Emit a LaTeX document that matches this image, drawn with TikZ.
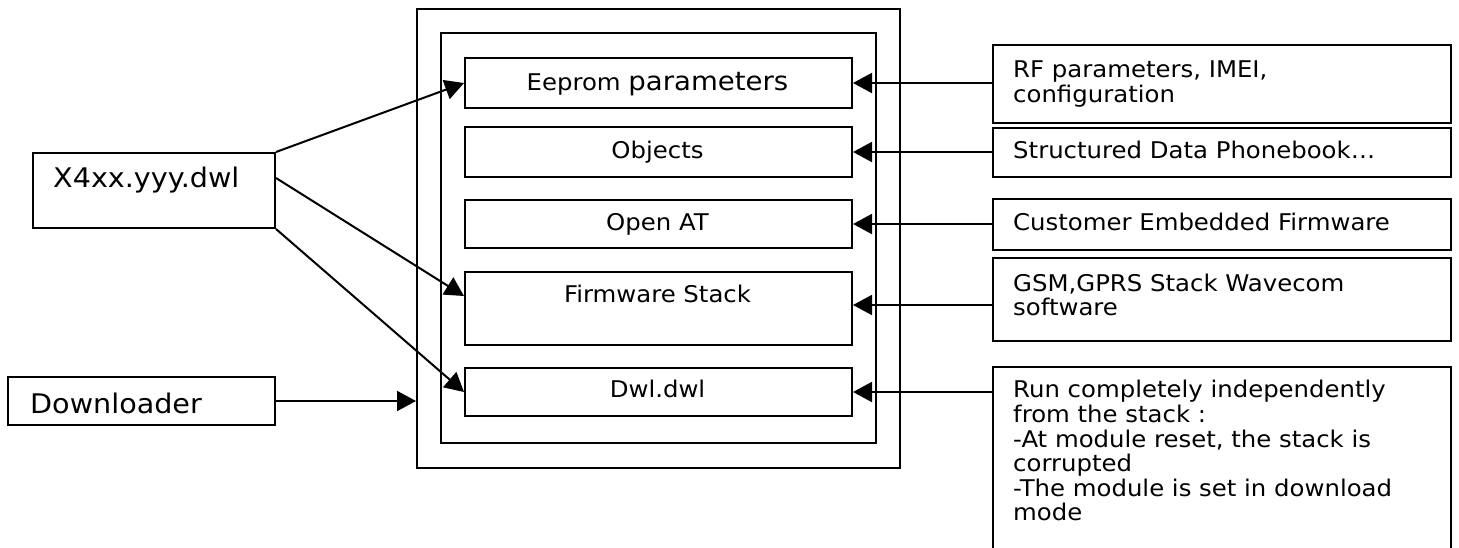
\documentclass[tikz,border=0pt]{standalone}
\usepackage{fontspec}
\setmainfont[FakeStretch=1.06]{DejaVu Sans}
\usetikzlibrary{arrows.meta}
\begin{document}
\begin{tikzpicture}[x=1pt,y=-1pt,
  box/.style={draw, line width=2pt, inner sep=0pt, anchor=north west},
  txt/.style={inner sep=0pt, font=\fontsize{23}{24.6}\selectfont},
  big/.style={inner sep=0pt, font=\fontsize{27}{30}\selectfont},
  arr/.style={line width=2pt, -{Triangle[length=19pt,width=20pt]}}]
\clip (0,0) rectangle (1459,547);
\fill[white] (0,0) rectangle (1459,547);

% module memory: outer frame, flash frame and its partitions
\node[box, minimum width=483pt, minimum height=459pt] (outer) at (416,8) {};
\node[box, minimum width=435pt, minimum height=410pt] (inner) at (440,32) {};
\node[box, minimum width=387pt, minimum height=50pt] (eeprom) at (464,57) {};
\node[box, minimum width=387pt, minimum height=50pt] (objects) at (464,126) {};
\node[box, minimum width=387pt, minimum height=48pt] (openat) at (464,199) {};
\node[box, minimum width=387pt, minimum height=73pt] (fw) at (464,271) {};
\node[box, minimum width=387pt, minimum height=48pt] (dwl) at (464,367) {};

\node[txt, anchor=base] (eepromtxt) at (657.5,90) {Eeprom {\fontsize{26}{29}\selectfont parameters}};
\node[txt, anchor=base] (objectstxt) at (657.5,158) {Objects};
\node[txt, anchor=base] (openattxt) at (657.5,230.5) {Open AT};
\node[txt, anchor=base] (fwtxt) at (657.5,302.5) {Firmware Stack};
\node[txt, anchor=base] (dwltxt) at (657.5,397) {Dwl.dwl};

% sources on the left
\node[box, minimum width=242pt, minimum height=75pt] (x4) at (32,152) {};
\node[big, anchor=base west] (x4txt) at (53,187) {X4xx.yyy.dwl};
\node[box, minimum width=267pt, minimum height=48pt] (dl) at (7,376) {};
\node[big, anchor=base west] (dltxt) at (30,413) {Downloader};

% descriptions on the right
\node[box, minimum width=458pt, minimum height=78pt] (rf) at (992,44) {};
\node[box, minimum width=458pt, minimum height=49pt] (struct) at (992,127) {};
\node[box, minimum width=458pt, minimum height=51pt] (cust) at (992,198) {};
\node[box, minimum width=458pt, minimum height=83pt] (gsm) at (992,257) {};
\node[box, minimum width=458pt, minimum height=200pt] (run) at (992,366) {};

\node[txt, anchor=north west, align=left] (rftxt) at (1013,60.5) {RF parameters, IMEI,\\configuration};
\node[txt, anchor=base west] (structtxt) at (1013,158) {Structured Data Phonebook\dots};
\node[txt, anchor=base west] (custtxt) at (1013,230.5) {Customer Embedded Firmware};
\node[txt, anchor=north west, align=left] (gsmtxt) at (1013,273.5) {GSM,GPRS Stack Wavecom\\software};
\node[txt, anchor=north west, align=left] (runtxt) at (1013,380.2) {Run completely independently\\from the stack :\\-At module reset, the stack is\\corrupted\\-The module is set in download\\mode};

% loading arrows
\draw[arr] (x4.north east) -- (eeprom.west);
\draw[arr] ([yshift=12.5pt]x4.east) -- ([yshift=12.5pt]fw.west);
\draw[arr] (x4.south east) -- (dwl.west);
\draw[arr] (dl.east) -- (dl.east -| outer.west);

% content arrows
\coordinate (fwin) at ([yshift=3.5pt]fw.east);
\draw[arr] (rf.west |- eeprom.east) -- (eeprom.east);
\draw[arr] (struct.west |- objects.east) -- (objects.east);
\draw[arr] (cust.west |- openat.east) -- (openat.east);
\draw[arr] (gsm.west |- fwin) -- (fwin);
\draw[arr] (run.west |- dwl.east) -- (dwl.east);
\end{tikzpicture}
\end{document}
